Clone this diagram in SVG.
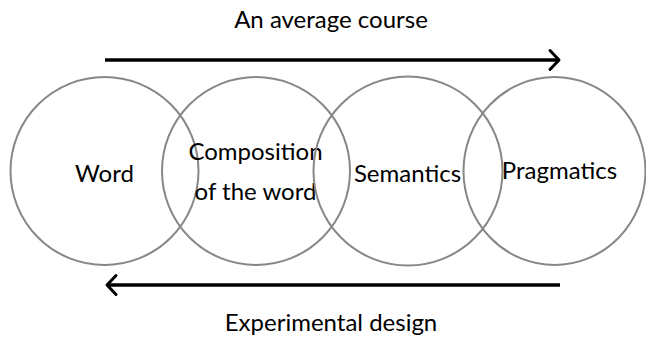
<svg xmlns="http://www.w3.org/2000/svg" width="646" height="338" viewBox="0 0 646 338">
<defs>
<style>
.c{fill:none;stroke:#878787;stroke-width:2}
.t{font-family:Lato,"Liberation Sans",sans-serif;font-size:24px;fill:#000;text-anchor:middle}
.a{fill:none;stroke:#000;stroke-width:3.5}
.h{fill:none;stroke:#000;stroke-width:3;stroke-linecap:round;stroke-linejoin:round}
</style>
</defs>
<rect width="646" height="338" fill="#fff"/>
<g id="word"><circle class="c" cx="104.5" cy="171" r="94"/><text class="t" x="104.5" y="182">Word</text></g>
<g id="composition"><circle class="c" cx="256" cy="171" r="94"/><text class="t" x="255.5" y="160">Composition</text><text class="t" x="255.5" y="200">of the word</text></g>
<g id="semantics"><circle class="c" cx="408" cy="171" r="94.5"/><text class="t" x="407.5" y="182">Semantics</text></g>
<g id="pragmatics"><ellipse class="c" cx="554.5" cy="171" rx="91" ry="94"/><text class="t" x="559.5" y="179">Pragmatics</text></g>
<g id="connectors">
<line class="a" x1="105" y1="60" x2="557" y2="60"/>
<polyline class="h" points="550,50.5 559,60 550,69.5"/>
<line class="a" x1="109" y1="285" x2="560" y2="285"/>
<polyline class="h" points="116,275.5 107,285 116,294.5"/>
</g>
<text class="t" x="331" y="28">An average course</text>
<text class="t" x="331" y="331">Experimental design</text>
</svg>
